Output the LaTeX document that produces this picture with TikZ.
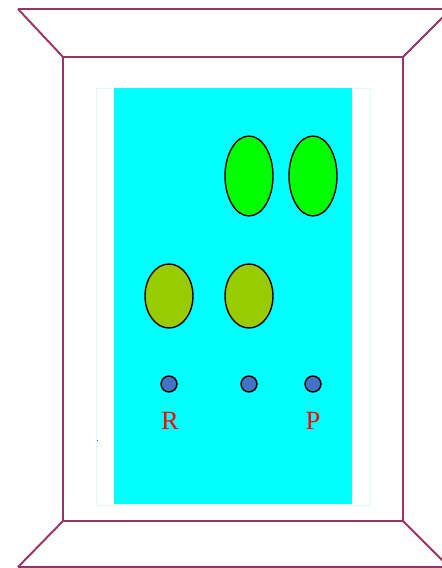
\documentclass[tikz,border=0pt]{standalone}
\usepackage{fontspec}
\setmainfont{Liberation Serif}
\usepackage{tikz}
\usetikzlibrary{shapes.geometric}
\definecolor{framered}{RGB}{153, 51, 102}
\definecolor{panel}{RGB}{0, 255, 255}
\definecolor{seed}{RGB}{0, 255, 0}
\definecolor{olive}{RGB}{153, 204, 0}
\definecolor{dotblue}{RGB}{68, 114, 196}
\definecolor{paleedge}{RGB}{220, 250, 250}

\begin{document}
\begin{tikzpicture}[x=0.02cm, y=-0.02cm,
    frame/.style={draw=framered, line width=1.1pt},
    bigpod/.style={ellipse, draw=black, thick, fill=seed, minimum width=0.96cm, minimum height=1.6cm, inner sep=0pt},
    smallpod/.style={ellipse, draw=black, thick, fill=olive, minimum width=0.96cm, minimum height=1.28cm, inner sep=0pt},
    pin/.style={circle, draw=black, thick, fill=dotblue, minimum size=0.32cm, inner sep=0pt},
    tag/.style={text=red, font=\fontsize{15}{17}\selectfont}
]
    \useasboundingbox (0,0) rectangle (442,568);

    % box seen from the front
    \draw[frame] (18,9) -- (460,9);
    \draw[frame] (18,567) -- (460,567);
    \draw[frame] (63,57) rectangle (403,521);
    \draw[frame] (18,9) -- (63,57);
    \draw[frame] (451,9) -- (403,57);
    \draw[frame] (18,567) -- (63,521);
    \draw[frame] (449,567) -- (403,521);

    % back panel
    \draw[paleedge, fill=white] (96,88) rectangle (370,505);
    \fill[panel] (114,88) rectangle (352,504);
    \fill[teal] (96.5,439.5) rectangle (98,441);

    \node[bigpod] (g1) at (249,176) {};
    \node[bigpod] (g2) at (313,176) {};
    \node[smallpod] (o1) at (169,296) {};
    \node[smallpod] (o2) at (249,296) {};

    \node[pin] (r) at (169,384) {};
    \node[pin] (m) at (249,384) {};
    \node[pin] (p) at (313,384) {};

    \node[tag] (rlabel) at (170,421) {R};
    \node[tag] (plabel) at (313,421) {P};
\end{tikzpicture}
\end{document}
